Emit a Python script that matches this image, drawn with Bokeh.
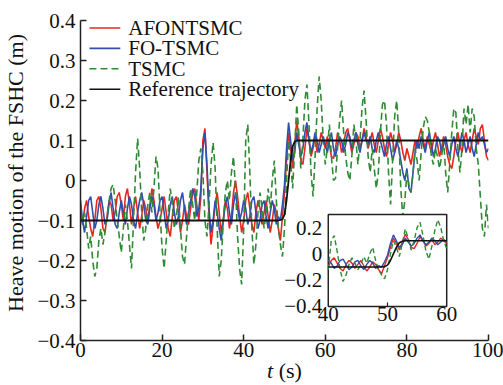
import numpy as np
from bokeh.plotting import figure
from bokeh.models import Range1d, FixedTicker, CustomJSTickFormatter, Div
from bokeh.layouts import column
from bokeh.core.properties import value
from bokeh.embed import file_html
from bokeh.resources import INLINE

# ---------------- data ----------------
t = [i * 0.5 for i in range(201)]

tsmc = [
    -0.06, -0.1, -0.08, -0.12, -0.17, -0.14, -0.2, -0.24, -0.22, -0.15, -0.12, -0.16, -0.13, -0.09, -0.05, -0.02, -0.01, -0.05, -0.1, -0.14,
    -0.18, -0.12, -0.06, -0.1, -0.16, -0.22, -0.1, 0.02, 0.105, 0.03, -0.08, -0.15, -0.12, -0.06, -0.03, -0.08, -0.02, 0.06, 0.03, -0.08,
    -0.17, -0.22, -0.15, -0.08, -0.02, -0.06, -0.12, -0.09, -0.04, -0.12, -0.19, -0.21, -0.14, -0.07, -0.02, -0.06, -0.1, -0.03, 0.05, 0.08,
    0.02, -0.1, -0.14, -0.06, 0.04, 0.095, 0.03, -0.12, -0.24, -0.2, -0.1, -0.03, 0.0, -0.05, 0.02, 0.06, -0.02, -0.14, -0.22, -0.26,
    -0.12, 0.1, 0.14, 0.02, -0.12, -0.21, -0.16, -0.08, -0.03, -0.07, -0.12, -0.08, -0.02, -0.07, 0.0, 0.05, -0.05, -0.12, -0.16, -0.19,
    -0.12, 0.0, 0.1, 0.05, -0.02, 0.08, 0.19, 0.12, 0.03, 0.1, 0.2, 0.24, 0.14, 0.02, -0.04, 0.06, 0.18, 0.26, 0.2, 0.1,
    0.04, 0.08, 0.14, 0.06, 0.0, 0.005, 0.08, 0.15, 0.2, 0.12, 0.06, 0.02, 0.0, 0.06, 0.14, 0.1, 0.04, 0.1, 0.18, 0.225,
    0.15, 0.06, 0.02, 0.08, 0.03, -0.02, 0.02, 0.12, 0.19, 0.2, 0.14, 0.02, -0.06, 0.05, 0.16, 0.2, 0.12, -0.02, -0.09, -0.05,
    0.02, -0.01, -0.03, 0.02, 0.08, 0.05, 0.0, 0.07, 0.13, 0.16, 0.15, 0.12, 0.06, 0.04, 0.08, 0.06, 0.03, 0.06, 0.1, 0.02,
    -0.03, 0.04, 0.12, 0.18, 0.17, 0.08, 0.02, 0.08, 0.18, 0.14, 0.19, 0.12, 0.18, 0.16, 0.08, 0.04, -0.04, -0.12, -0.14, -0.06, -0.12,
]

afontsmc = [
    -0.08, -0.11, -0.07, -0.05, -0.09, -0.12, -0.14, -0.1, -0.05, -0.04, -0.07, -0.12, -0.13, -0.09, -0.05, -0.06, -0.1, -0.08, -0.04, -0.03,
    -0.06, -0.1, -0.04, -0.02, -0.06, -0.11, -0.07, -0.04, -0.08, -0.12, -0.09, -0.05, -0.07, -0.1, -0.06, -0.02, -0.05, -0.09, -0.12, -0.1,
    -0.07, -0.04, -0.08, -0.12, -0.14, -0.09, -0.05, -0.04, -0.08, -0.13, -0.1, -0.06, -0.09, -0.11, -0.07, -0.03, -0.02, -0.06, -0.1, -0.04,
    0.1, 0.13, 0.02, -0.09, -0.16, -0.11, -0.06, -0.03, -0.08, -0.13, -0.1, -0.05, -0.07, -0.12, -0.09, -0.03, 0.0, -0.04, -0.09, -0.13,
    -0.1, -0.05, -0.03, -0.07, -0.11, -0.13, -0.08, -0.05, -0.07, -0.11, -0.08, -0.05, -0.09, -0.13, -0.1, -0.06, -0.08, -0.12, -0.15, -0.09,
    -0.03, 0.05, 0.12, 0.08, 0.03, 0.09, 0.15, 0.11, 0.05, 0.04, 0.08, 0.13, 0.1, 0.06, 0.08, 0.11, 0.07, 0.09, 0.12, 0.1,
    0.08, 0.11, 0.09, 0.06, 0.055, 0.08, 0.12, 0.1, 0.07, 0.09, 0.12, 0.13, 0.1, 0.07, 0.09, 0.12, 0.11, 0.08, 0.1, 0.13,
    0.11, 0.08, 0.1, 0.12, 0.09, 0.07, 0.1, 0.13, 0.11, 0.08, 0.06, 0.09, 0.12, 0.1, 0.07, 0.09, 0.12, 0.1, 0.07, 0.05,
    0.08, 0.06, 0.04, 0.07, 0.1, 0.08, 0.11, 0.13, 0.1, 0.08, 0.11, 0.09, 0.07, 0.1, 0.12, 0.09, 0.06, 0.08, 0.11, 0.09,
    0.06, 0.04, 0.03, 0.06, 0.1, 0.12, 0.09, 0.07, 0.1, 0.12, 0.09, 0.07, 0.1, 0.13, 0.11, 0.09, 0.13, 0.14, 0.1, 0.06, 0.05,
]

fotsmc = [
    -0.05, -0.1, -0.13, -0.09, -0.05, -0.04, -0.08, -0.12, -0.1, -0.06, -0.04, -0.07, -0.11, -0.1, -0.06, -0.03, -0.07, -0.11, -0.12, -0.08,
    -0.05, -0.08, -0.11, -0.07, -0.04, -0.06, -0.1, -0.12, -0.08, -0.05, -0.03, -0.06, -0.1, -0.11, -0.07, -0.04, -0.06, -0.1, -0.08, -0.05,
    -0.04, -0.08, -0.12, -0.1, -0.06, -0.04, -0.08, -0.11, -0.09, -0.05, -0.03, -0.07, -0.11, -0.08, -0.05, -0.02, -0.04, -0.09, -0.07, -0.02,
    0.08, 0.12, 0.04, -0.07, -0.13, -0.1, -0.05, -0.08, -0.12, -0.15, -0.1, -0.06, -0.04, -0.08, -0.11, -0.06, -0.03, -0.07, -0.1, -0.08,
    -0.05, -0.07, -0.11, -0.09, -0.05, -0.04, -0.08, -0.12, -0.1, -0.06, -0.05, -0.09, -0.12, -0.08, -0.05, -0.07, -0.11, -0.09, -0.1, -0.06,
    -0.01, 0.08, 0.145, 0.1, 0.05, 0.07, 0.12, 0.09, 0.06, 0.08, 0.12, 0.145, 0.1, 0.07, 0.09, 0.12, 0.1, 0.07, 0.09, 0.11,
    0.09, 0.07, 0.1, 0.12, 0.08, 0.06, 0.09, 0.11, 0.1, 0.07, 0.09, 0.12, 0.11, 0.08, 0.1, 0.12, 0.09, 0.07, 0.1, 0.12,
    0.1, 0.09, 0.11, 0.08, 0.07, 0.1, 0.12, 0.1, 0.08, 0.06, 0.09, 0.11, 0.08, 0.05, 0.07, 0.1, 0.08, 0.05, 0.02, 0.0,
    0.03, -0.02, -0.03, 0.02, 0.07, 0.1, 0.08, 0.11, 0.09, 0.07, 0.1, 0.12, 0.09, 0.06, 0.08, 0.11, 0.1, 0.07, 0.09, 0.11,
    0.08, 0.06, 0.09, 0.11, 0.08, 0.06, 0.09, 0.12, 0.1, 0.07, 0.09, 0.11, 0.08, 0.06, 0.09, 0.12, 0.1, 0.11, 0.09, 0.07, 0.08,
]

ref_t = [0, 48.5, 49.5, 50, 50.5, 51, 51.5, 52, 52.5, 53, 100]
ref_v = [-0.1, -0.1, -0.097, -0.085, -0.05, 0.0, 0.05, 0.085, 0.097, 0.1, 0.1]

x_ticks = [0, 20, 40, 60, 80, 100]
y_ticks = [-0.4, -0.3, -0.2, -0.1, 0.0, 0.1, 0.2, 0.3, 0.4]
inset_x_ticks = [40, 50, 60]
inset_y_ticks = [-0.4, -0.2, 0.0, 0.2]
inset_x_labels = ["40", "50", "60"]
inset_y_labels = ["\u22120.4", "\u22120.2", "0", "0.2"]

legend_labels = ["AFONTSMC", "FO-TSMC", "TSMC", "Reference trajectory"]

# ---------------- styles ----------------
FONT = "Liberation Serif"
RED = "#e8261f"
BLUE = "#2f4fb0"
GREEN = "#2f8a34"
BLACK = "#111111"
legend_colors = [RED, BLUE, GREEN, BLACK]
legend_dashes = ["solid", "solid", "7 4", "solid"]

p = figure(width=503, height=363, output_backend="svg", toolbar_location=None,
           x_range=Range1d(0, 100), y_range=Range1d(-0.4, 0.4375),
           min_border_left=78, min_border_right=15, min_border_top=5, min_border_bottom=23)
p.outline_line_color = None
p.grid.visible = False
p.background_fill_color = "white"
p.yaxis.bounds = (-0.4, 0.4)

for ax in (p.xaxis[0], p.yaxis[0]):
    ax.major_tick_in = 6
    ax.major_tick_out = 0
    ax.minor_tick_line_color = None
    ax.axis_line_width = 1.5
    ax.major_tick_line_width = 1.5
    ax.axis_line_color = "#222222"
    ax.major_tick_line_color = "#222222"
    ax.major_label_text_font = FONT
    ax.major_label_text_font_size = "21px"
    ax.major_label_text_color = "#111111"
    ax.major_label_text_line_height = 1.0

p.xaxis.ticker = FixedTicker(ticks=x_ticks)
p.yaxis.ticker = FixedTicker(ticks=y_ticks)
p.xaxis.major_label_standoff = 2
p.yaxis.major_label_standoff = 5
p.yaxis.formatter = CustomJSTickFormatter(code="""
    if (Math.abs(tick) < 1e-9) { return '0'; }
    return tick.toFixed(1).replace('-', '\u2212');
""")
p.yaxis.axis_label = "Heave motion of the FSHC (m)"
p.yaxis.axis_label_text_font = FONT
p.yaxis.axis_label_text_font_size = "22px"
p.yaxis.axis_label_text_font_style = "normal"
p.yaxis.axis_label_text_color = "#111111"
p.yaxis.axis_label_standoff = 6

# main lines
p.line(t, afontsmc, line_color=RED, line_width=1.6)
p.line(t, fotsmc, line_color=BLUE, line_width=1.6)
p.line(t, tsmc, line_color=GREEN, line_width=1.6, line_dash="7 4")
p.line(ref_t, ref_v, line_color=BLACK, line_width=1.8)

# ---------------- inset (drawn with extra ranges) ----------------
p.extra_x_ranges = {"ix": Range1d(-1.85, 67.06), "px": Range1d(78, 488)}
p.extra_y_ranges = {"iy": Range1d(-0.6587, 1.89), "py": Range1d(340, 5)}
kw = dict(x_range_name="ix", y_range_name="iy")

p.quad(left=[inset_x_ticks[0]], right=[inset_x_ticks[-1]], bottom=[-0.4], top=[0.3],
       fill_color="white", line_color="#222222", line_width=1.5, **kw)

sel = [i for i, tt in enumerate(t) if 40 <= tt <= 60]
ti = [t[i] for i in sel]
p.line(ti, [afontsmc[i] for i in sel], line_color=RED, line_width=1.4, **kw)
p.line(ti, [fotsmc[i] for i in sel], line_color=BLUE, line_width=1.4, **kw)
p.line(ti, [tsmc[i] for i in sel], line_color=GREEN, line_width=1.4, line_dash="5 3", **kw)
ri = [i for i, tt in enumerate(ref_t) if 40 <= tt <= 60]
p.line([40] + [ref_t[i] for i in ri] + [60],
       [ref_v[0]] + [ref_v[i] for i in ri] + [ref_v[-1]],
       line_color=BLACK, line_width=1.6, **kw)

p.segment(x0=[50], y0=[-0.4], x1=[50], y1=[-0.37], line_color="#222222", line_width=1.2, **kw)

p.text(x=inset_x_ticks, y=[-0.4] * 3, text=inset_x_labels, text_font=value(FONT),
       text_font_size="21px", text_align="center", text_baseline="top", y_offset=1,
       text_color="#111111", **kw)
p.text(x=[40] * 4, y=inset_y_ticks, text=inset_y_labels, text_font=value(FONT),
       text_font_size="21px", text_align="right", text_baseline="middle", x_offset=-6,
       text_color="#111111", **kw)

# ---------------- legend (pixel-mapped ranges) ----------------
pk = dict(x_range_name="px", y_range_name="py")
row_y = [27.5 + 20.4 * i for i in range(len(legend_labels))]
for lab, col, dash, yy in zip(legend_labels, legend_colors, legend_dashes, row_y):
    p.segment(x0=[87], y0=[yy], x1=[118], y1=[yy], line_color=col, line_width=1.6,
              line_dash=dash, **pk)
p.text(x=[126] * len(legend_labels), y=row_y, text=legend_labels, text_font=value(FONT),
       text_font_size="21px", text_align="left", text_baseline="middle",
       text_color="#111111", **pk)

# x-axis title with italic t, as a text block right under the figure
xlabel = Div(text='<span style="font-style:italic">t</span> (s)', width=503, height=22,
             margin=(0, 0, 0, 0),
             styles={"font-family": "'Liberation Serif'", "font-size": "22px",
                     "line-height": "15px", "padding-left": "267px", "color": "#111111",
                     "overflow": "visible", "white-space": "nowrap"})

layout = column(p, xlabel, spacing=0)
open("out.html", "w").write(file_html(layout, INLINE))
